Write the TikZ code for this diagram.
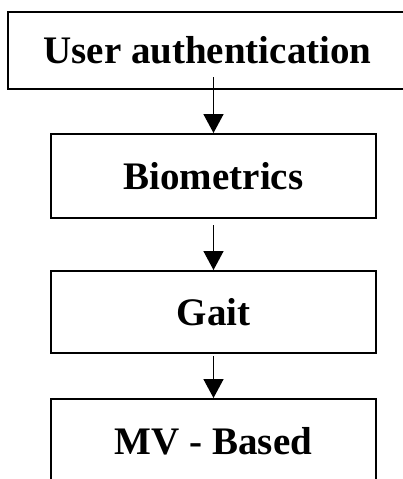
\documentclass[tikz,border=0pt]{standalone}
\usepackage{fontspec}
\setmainfont{Liberation Serif}
\usetikzlibrary{arrows.meta,positioning}

\begin{document}
\begin{tikzpicture}[x=0.5pt, y=-0.5pt]
        \tikzstyle{box}=[draw, line width=1pt, inner sep=0pt, minimum width=162.5pt, minimum height=42pt, font=\fontsize{19.5}{22}\selectfont\bfseries]
        \tikzstyle{flow}=[line width=0.8pt, -{Triangle[length=9.5pt,width=10pt]}]

        % Page frame
        \useasboundingbox (0,0) rectangle (403,479);

        % Boxes
        \node[box, minimum width=199.5pt, minimum height=38.5pt] (ua) at (207.5,50.5) {User authentication};
        \node[box] (bio) at (213.5,176) {Biometrics};
        \node[box, minimum height=41pt] (gait) at (213.5,312) {Gait};
        \node[box] (mv) at (213.5,441) {MV - Based};

        % Arrow tail inside the top box
        \coordinate (ua_tail) at (213.5,77);

        % Arrows between the levels
        \draw[flow] (ua_tail) -- (bio.north);
        \draw[flow, shorten <=3pt] (bio.south) -- (gait.north);
        \draw[flow, shorten <=1pt] (gait.south) -- (mv.north);
    \end{tikzpicture}
\end{document}
